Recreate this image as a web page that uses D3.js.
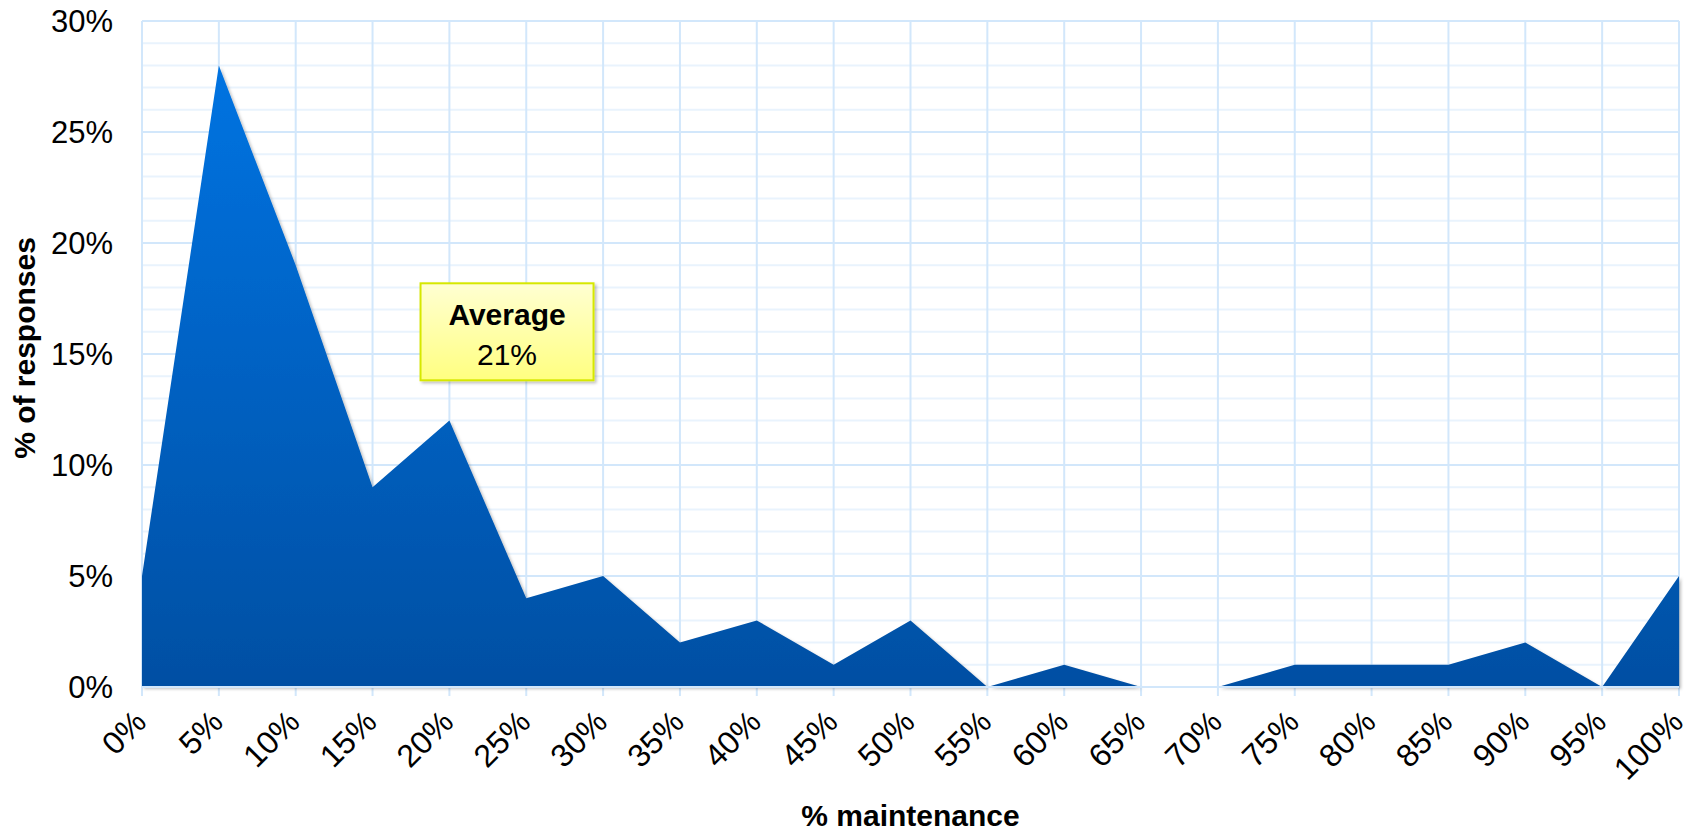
<!DOCTYPE html>
<html><head><meta charset="utf-8">
<script src="https://cdn.jsdelivr.net/npm/d3@7"></script>
<style>body{margin:0;background:#fff;} svg{display:block;font-family:"Liberation Sans",Arial,sans-serif;}</style>
</head><body>
<svg id="chart" width="1696" height="832"></svg>
<script>
const categories = ["0%","5%","10%","15%","20%","25%","30%","35%","40%","45%","50%","55%","60%","65%","70%","75%","80%","85%","90%","95%","100%"];
const values = [5,28,19,9,12,4,5,2,3,1,3,0,1,0,0,1,1,1,2,0,5];
const yTicks = [0,5,10,15,20,25,30];
const minorTicks = d3.range(0,31,1);
const annotation = {title:"Average", value:"21%", xIndex:4.75, yValue:16};
const xTitle = "% maintenance";
const yTitle = "% of responses";

const svg = d3.select("#chart");
const m = {left:142, right:1696-1679, top:21, bottom:832-687};
const W = 1696, H = 832;
const x = d3.scaleLinear().domain([0, categories.length-1]).range([m.left, W-m.right]);
const y = d3.scaleLinear().domain([0,30]).range([H-m.bottom, m.top]);

const defs = svg.append("defs");
const g1 = defs.append("linearGradient").attr("id","areaGrad")
  .attr("gradientUnits","userSpaceOnUse").attr("x1",0).attr("y1",y(30)).attr("x2",0).attr("y2",y(0));
g1.append("stop").attr("offset","0%").attr("stop-color","#0076e6");
g1.append("stop").attr("offset","100%").attr("stop-color","#034fa3");
const sh = defs.append("filter").attr("id","shadow").attr("x","-10%").attr("y","-10%").attr("width","130%").attr("height","130%");
sh.append("feDropShadow").attr("dx",2).attr("dy",2).attr("stdDeviation",1.5).attr("flood-color","#000").attr("flood-opacity",0.25);
const g2 = defs.append("linearGradient").attr("id","boxGrad").attr("x1",0).attr("y1",0).attr("x2",0).attr("y2",1);
g2.append("stop").attr("offset","0%").attr("stop-color","#ffffd2");
g2.append("stop").attr("offset","100%").attr("stop-color","#ffff80");

// minor gridlines
svg.append("g").selectAll("line").data(minorTicks.filter(d=>d%5!==0)).join("line")
  .attr("x1",x(0)).attr("x2",x(categories.length-1)).attr("y1",d=>y(d)).attr("y2",d=>y(d))
  .attr("stroke","#e9f3fd").attr("stroke-width",2);
// vertical gridlines + major
svg.append("g").selectAll("line").data(d3.range(categories.length)).join("line")
  .attr("x1",d=>x(d)).attr("x2",d=>x(d)).attr("y1",y(30)).attr("y2",y(0)+9)
  .attr("stroke","#d2e7fb").attr("stroke-width",2);
svg.append("g").selectAll("line").data(yTicks).join("line")
  .attr("x1",x(0)).attr("x2",x(categories.length-1)).attr("y1",d=>y(d)).attr("y2",d=>y(d))
  .attr("stroke","#d2e7fb").attr("stroke-width",2);

// area
const area = d3.area().x((d,i)=>x(i)).y0(y(0)).y1(d=>y(d));
svg.append("path").datum(values).attr("d",area).attr("fill","url(#areaGrad)").attr("filter","url(#shadow)");
svg.append("line").attr("x1",x(0)).attr("x2",x(categories.length-1)).attr("y1",y(0)).attr("y2",y(0))
  .attr("stroke","#d2e7fb").attr("stroke-width",2);

// y axis labels
svg.append("g").selectAll("text").data(yTicks).join("text")
  .attr("x",m.left-29).attr("y",d=>y(d)).attr("dy","0.35em").attr("text-anchor","end")
  .attr("font-size",31).attr("fill","#000").text(d=>d+"%");

// x labels
svg.append("g").selectAll("text").data(categories).join("text")
  .attr("transform",(d,i)=>`translate(${x(i)+6},${y(0)+37}) rotate(-45)`)
  .attr("text-anchor","end").attr("font-size",32).attr("fill","#000").text(d=>d);

// titles
svg.append("text").attr("transform",`translate(24,348) rotate(-90)`).attr("text-anchor","middle")
  .attr("dy","0.35em").attr("font-size",30).attr("font-weight","bold").text(yTitle);
svg.append("text").attr("x",(x(0)+x(categories.length-1))/2).attr("y",826).attr("text-anchor","middle")
  .attr("font-size",30).attr("font-weight","bold").text(xTitle);

// annotation
const cx = x(annotation.xIndex), cy = y(annotation.yValue);
const bw = 173, bh = 97;
const ag = svg.append("g");
ag.append("rect").attr("x",cx-bw/2).attr("y",cy-bh/2).attr("width",bw).attr("height",bh)
  .attr("fill","url(#boxGrad)").attr("stroke","#d6e800").attr("stroke-width",2).attr("filter","url(#shadow)");
ag.append("text").attr("x",cx).attr("y",cy-17).attr("dy","0.35em").attr("text-anchor","middle")
  .attr("font-size",30).attr("font-weight","bold").text(annotation.title);
ag.append("text").attr("x",cx).attr("y",cy+23).attr("dy","0.35em").attr("text-anchor","middle")
  .attr("font-size",30).text(annotation.value);
</script>
</body></html>
